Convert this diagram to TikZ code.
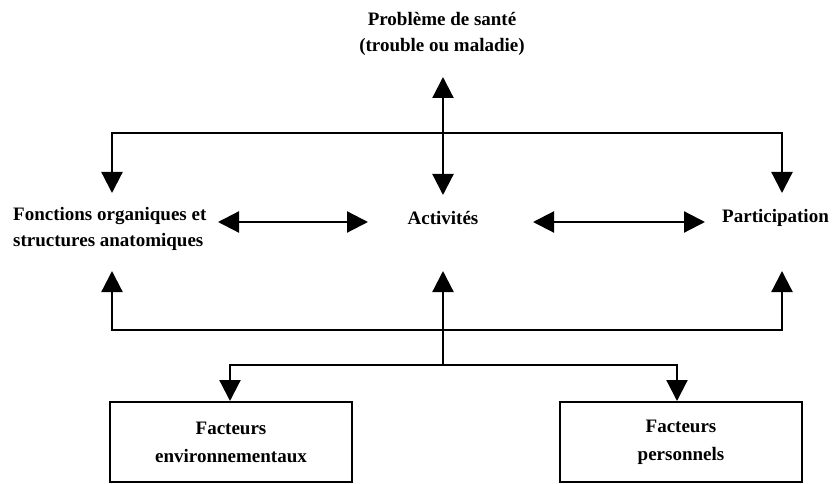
\documentclass[tikz,border=0pt]{standalone}
\usepackage{fontspec}
\setmainfont{Liberation Serif}
\usetikzlibrary{arrows.meta}
\begin{document}
\begin{tikzpicture}[x=1pt,y=-1pt,
  lbl/.style={font=\fontsize{19}{26}\selectfont\bfseries, inner sep=0pt},
  conn/.style={line width=2.2pt},
  tip/.style={-{Triangle[length=21pt,width=21pt]}},
  dtip/.style={{Triangle[length=21pt,width=21pt]}-{Triangle[length=21pt,width=21pt]}},
  fbox/.style={draw, line width=2pt, minimum width=242pt, minimum height=80pt, align=center, font=\fontsize{19}{28}\selectfont\bfseries}]
\useasboundingbox (0,0) rectangle (833,484);
% texts
\node[lbl, align=center] (prob) at (442,34) {Problème de santé\\(trouble ou maladie)};
\node[lbl, align=left, anchor=west] (fonc) at (13,229) {Fonctions organiques et\\structures anatomiques};
\node[lbl] (act) at (443,218) {Activités};
\node[lbl, anchor=west] (part) at (722,218) {Participation};
\node[fbox] (env) at (231,442) {Facteurs\\environnementaux};
\node[fbox] (pers) at (681,442) {Facteurs\\personnels};
% coordinates
\coordinate (probTip) at (443,77);
\coordinate (actTopTip) at (443,195);
\coordinate (topL) at (112,133);
\coordinate (topR) at (782,133);
\coordinate (foncTopTip) at (112,193);
\coordinate (partTopTip) at (782,193);
\coordinate (botL) at (112,330);
\coordinate (botC) at (443,330);
\coordinate (botR) at (782,330);
\coordinate (foncBotTip) at (112,271);
\coordinate (actBotTip) at (443,271);
\coordinate (partBotTip) at (782,271);
\coordinate (splitC) at (443,365);
\coordinate (splitL) at (230,365);
\coordinate (splitR) at (677,365);
\coordinate (lrA1) at (218,222);
\coordinate (lrA2) at (368,222);
\coordinate (lrB1) at (533,222);
\coordinate (lrB2) at (705,222);
% connectors
\draw[conn, dtip] (probTip) -- (actTopTip);
\draw[conn, dtip] (foncTopTip) -- (topL) -- (topR) -- (partTopTip);
\draw[conn, dtip] (lrA1) -- (lrA2);
\draw[conn, dtip] (lrB1) -- (lrB2);
\draw[conn, dtip] (foncBotTip) -- (botL) -- (botR) -- (partBotTip);
\draw[conn, tip] (splitC) -- (actBotTip);
\draw[conn, dtip] (env.north -| splitL) -- (splitL) -- (splitR) -- (pers.north -| splitR);
\end{tikzpicture}
\end{document}
